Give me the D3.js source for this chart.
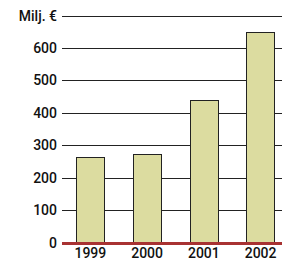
<!DOCTYPE html>
<html><head><meta charset="utf-8">
<script src="https://cdn.jsdelivr.net/npm/d3@7"></script>
<style>html,body{margin:0;padding:0;background:#fff;}svg{display:block;}</style>
</head><body><svg id="c" width="282" height="261"></svg>
<script>
const years = ["1999","2000","2001","2002"];
const values = [263, 272, 439, 648];
const yTicks = [0,100,200,300,400,500,600];
const unitLabel = "Milj. €";

const svg = d3.select("#c");
const font = "Roboto,'DejaVu Sans',sans-serif";
const y = d3.scaleLinear().domain([0,700]).range([242.5,15.5]);
const x = d3.scaleBand().domain(years).range([62,289]).paddingInner(0.5).paddingOuter(0.25);

const grid = yTicks.concat([700]);
svg.append("g").selectAll("line").data(grid).join("line")
  .attr("x1",62).attr("x2",282)
  .attr("y1",d=>Math.round(y(d))+0.5).attr("y2",d=>Math.round(y(d))+0.5)
  .attr("stroke","#222").attr("stroke-width",1);

svg.append("g").selectAll("text").data(grid).join("text")
  .attr("x",57).attr("y",d=>Math.round(y(d))+5)
  .attr("text-anchor","end")
  .attr("font-family",font).attr("font-weight",500).attr("font-size",14)
  .attr("fill","#111")
  .text(d=>d===700?unitLabel:d);

svg.append("g").selectAll("rect").data(values).join("rect")
  .attr("x",(d,i)=>Math.round(x(years[i]))+0.5)
  .attr("width",Math.round(x.bandwidth()))
  .attr("y",d=>Math.round(y(d))+0.5)
  .attr("height",d=>Math.round(y(0))-Math.round(y(d)))
  .attr("fill","#dcdca0").attr("stroke","#222").attr("stroke-width",1);

svg.append("line").attr("x1",62).attr("x2",282)
  .attr("y1",y(0)+1).attr("y2",y(0)+1)
  .attr("stroke","#a83232").attr("stroke-width",3);

svg.append("g").selectAll("text").data(years).join("text")
  .attr("x",d=>x(d)+x.bandwidth()/2).attr("y",258)
  .attr("text-anchor","middle")
  .attr("font-family",font).attr("font-weight",500).attr("font-size",14)
  .attr("fill","#111")
  .text(d=>d);
</script></body></html>
